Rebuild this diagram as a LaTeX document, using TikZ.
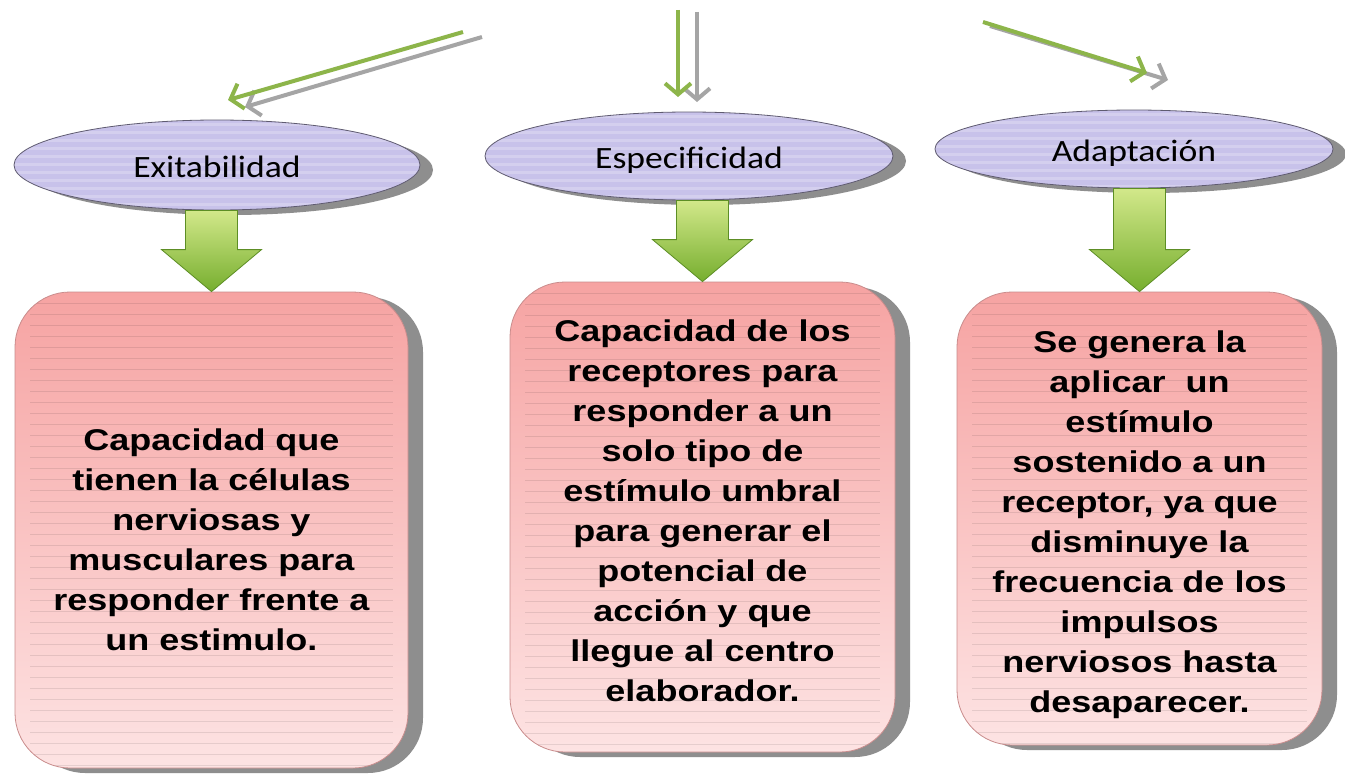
\documentclass[tikz,border=0pt]{standalone}
\usepackage{fontspec}
\setmainfont{Liberation Sans}
\newfontfamily\ellfont[FakeStretch=1.15]{Carlito}
\newfontfamily\boxfont[FakeStretch=1.2]{Liberation Sans}
\usetikzlibrary{shapes.geometric,shadows,arrows.meta,calc}
\definecolor{ellfill}{HTML}{C8C2EA}
\definecolor{ellborder}{HTML}{5F5B70}
\definecolor{shadowgray}{HTML}{8E8E8E}
\definecolor{boxtop}{HTML}{F6A3A2}
\definecolor{boxbottom}{HTML}{FDE3E3}
\definecolor{boxborder}{HTML}{C98C8C}
\definecolor{greentop}{HTML}{D2E88A}
\definecolor{greenbottom}{HTML}{76AE2E}
\definecolor{greenborder}{HTML}{5D8E25}
\definecolor{linegreen}{HTML}{8DB54A}
\definecolor{linegray}{HTML}{A5A5A5}
\tikzset{
  ell/.style={ellipse, draw=ellborder, line width=0.8pt, fill=ellfill, inner sep=0pt,
    font=\ellfont\fontsize{31}{34}\selectfont, text height=32pt, text depth=7pt,
    drop shadow={shadow xshift=13pt, shadow yshift=-5pt, fill=shadowgray, opacity=1},
    path picture={\foreach \k in {0,...,12}{\draw[white, opacity=0.22, line width=3pt]
      ([yshift=-\k*8pt-4pt]path picture bounding box.north west) --
      ([yshift=-\k*8pt-4pt]path picture bounding box.north east);}}},
  box/.style={rectangle, rounded corners=55pt, draw=boxborder, line width=0.8pt,
    top color=boxtop, bottom color=boxbottom, inner sep=0pt,
    drop shadow={shadow xshift=15pt, shadow yshift=-5pt, fill=shadowgray, opacity=1},
    path picture={\foreach \k in {1,...,44}{\draw[black, opacity=0.09, line width=0.8pt]
      ([xshift=15pt,yshift=-\k*11pt]path picture bounding box.north west) --
      ([xshift=-15pt,yshift=-\k*11pt]path picture bounding box.north east);}}},
  btext/.style={font=\boxfont\bfseries\fontsize{30}{40}\selectfont, align=center, inner sep=0pt},
  garrow/.style={top color=greentop, bottom color=greenbottom, draw=greenborder, line width=0.8pt},
  thinarrow/.style={line width=4pt, -{Straight Barb[length=11pt,width=26pt]}}
}
\newcommand\greenarrow[2]{%
  \path[garrow] let \p1=(#1.south), \p2=(#2.north) in
    ({\x2-26pt},{\y1}) -- ({\x2+26pt},{\y1}) -- ({\x2+26pt},{\y2+42pt}) --
    ({\x2+50pt},{\y2+42pt}) -- ({\x2},{\y2}) -- ({\x2-50pt},{\y2+42pt}) --
    ({\x2-26pt},{\y2+42pt}) -- cycle;}
\begin{document}
\begin{tikzpicture}[x=1pt,y=-1pt]
\useasboundingbox[fill=white] (0,0) rectangle (1345,776);

% thin arrows from the (cut-off) title
\coordinate (gs1) at (482,37);  \coordinate (gh1) at (245,107);
\coordinate (ls1) at (463,32);  \coordinate (lh1) at (228,100);
\coordinate (gs2) at (697,12);  \coordinate (gh2) at (697,102);
\coordinate (ls2) at (678,10);  \coordinate (lh2) at (678,97);
\coordinate (gs3) at (990,26);  \coordinate (gh3) at (1168,80);
\coordinate (ls3) at (983,22);  \coordinate (lh3) at (1147,73);
\draw[thinarrow, linegray] (gs1) -- (gh1);
\draw[thinarrow, linegreen] (ls1) -- (lh1);
\draw[thinarrow, linegray] (gs2) -- (gh2);
\draw[thinarrow, linegreen] (ls2) -- (lh2);
\draw[thinarrow, linegray] (gs3) -- (gh3);
\draw[thinarrow, linegreen] (ls3) -- (lh3);

% ellipses
\node[ell, minimum width=406pt, minimum height=90pt] (e1) at (217,165) {Exitabilidad};
\node[ell, minimum width=408pt, minimum height=88pt] (e2) at (689,156) {Especificidad};
\node[ell, minimum width=398pt, minimum height=78pt] (e3) at (1134,149) {Adaptación};

% boxes
\node[box, minimum width=393pt, minimum height=476pt] (b1) at (211.5,530) {};
\node[box, minimum width=385pt, minimum height=470pt] (b2) at (702.5,517) {};
\node[box, minimum width=365pt, minimum height=453pt] (b3) at (1139.5,518.5) {};

% box texts
\node[btext] (t1) at ([yshift=-10pt]b1.center) {Capacidad que\\tienen la células\\nerviosas y\\musculares para\\responder frente a\\un estimulo.};
\node[btext] (t2) at ([yshift=6pt]b2.center) {Capacidad de los\\receptores para\\responder a un\\solo tipo de\\estímulo umbral\\para generar el\\potencial de\\acción y que\\llegue al centro\\elaborador.};
\node[btext] (t3) at ([yshift=-6pt]b3.center) {Se genera la\\aplicar\ \ un\\estímulo\\sostenido a un\\receptor, ya que\\disminuye la\\frecuencia de los\\impulsos\\nerviosos hasta\\desaparecer.};

% green block arrows
\greenarrow{e1}{b1}
\greenarrow{e2}{b2}
\greenarrow{e3}{b3}
\end{tikzpicture}
\end{document}
